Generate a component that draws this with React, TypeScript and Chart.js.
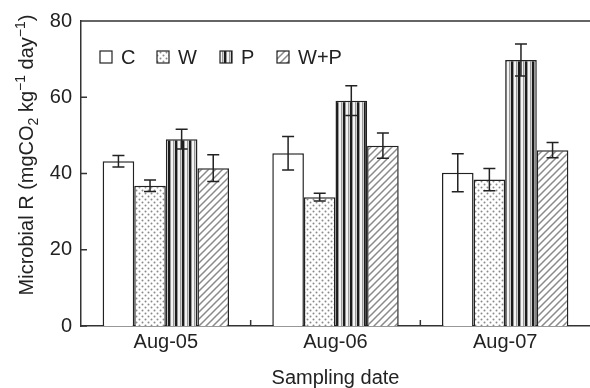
import React, { useEffect, useRef } from "react";
import { Chart, registerables } from "chart.js";
Chart.register(...registerables);

const categories = ["Aug-05", "Aug-06", "Aug-07"];
const seriesNames = ["C", "W", "P", "W+P"];
const valuesC = [43.2, 45.3, 40.2];
const errorsC = [1.5, 4.4, 5.0];
const valuesW = [36.8, 33.8, 38.4];
const errorsW = [1.5, 1.0, 2.9];
const valuesP = [49.0, 59.1, 69.8];
const errorsP = [2.6, 3.9, 4.2];
const valuesWP = [41.4, 47.3, 46.1];
const errorsWP = [3.5, 3.3, 2.0];
const yTickValues = [0, 20, 40, 60, 80];

const FONT = "'Liberation Sans', Arial, Helvetica, sans-serif";
const INK = "#222";

function makePattern(kind: string): CanvasPattern | string {
  const c = document.createElement("canvas");
  const x = c.getContext("2d")!;
  if (kind === "dots") {
    c.width = 6; c.height = 6;
    x.fillStyle = "#fff"; x.fillRect(0, 0, 6, 6);
    x.fillStyle = "#8a8a8a";
    x.beginPath(); x.arc(1.5, 1.5, 1.0, 0, Math.PI * 2); x.fill();
    x.beginPath(); x.arc(4.5, 4.5, 1.0, 0, Math.PI * 2); x.fill();
  } else if (kind === "stripes") {
    c.width = 7; c.height = 2;
    const cols = ["#1c1c1c", "#1c1c1c", "#9a9a9a", "#f4f4f4", "#f4f4f4", "#9a9a9a", "#d0d0d0"];
    cols.forEach((col, i) => { x.fillStyle = col; x.fillRect(i, 0, 1, 2); });
  } else if (kind === "hatch") {
    c.width = 7; c.height = 7;
    x.fillStyle = "#fff"; x.fillRect(0, 0, 7, 7);
    x.strokeStyle = "#8a8a8a"; x.lineWidth = 1.5;
    x.beginPath();
    x.moveTo(-1, 8); x.lineTo(8, -1);
    x.moveTo(-2, 2); x.lineTo(2, -2);
    x.moveTo(5, 9); x.lineTo(9, 5);
    x.stroke();
  } else {
    return "#ffffff";
  }
  return x.createPattern(c, "repeat") || "#fff";
}

const errorBars = {
  id: "errorBars",
  afterDatasetsDraw(chart: any) {
    const ctx = chart.ctx;
    const ys = chart.scales.y;
    ctx.save();
    ctx.strokeStyle = INK;
    ctx.lineWidth = 1.5;
    chart.data.datasets.forEach((ds: any, di: number) => {
      const meta = chart.getDatasetMeta(di);
      meta.data.forEach((bar: any, i: number) => {
        const v = ds.data[i];
        const e = ds.errors[i];
        const xp = bar.x;
        const yt = ys.getPixelForValue(v + e);
        const yb = ys.getPixelForValue(v - e);
        ctx.beginPath();
        ctx.moveTo(xp, yt); ctx.lineTo(xp, yb);
        ctx.moveTo(xp - 6, yt); ctx.lineTo(xp + 6, yt);
        ctx.moveTo(xp - 6, yb); ctx.lineTo(xp + 6, yb);
        ctx.stroke();
      });
    });
    ctx.restore();
  },
};

const frame = {
  id: "frame",
  afterDraw(chart: any) {
    const ctx = chart.ctx;
    const a = chart.chartArea;
    const ys = chart.scales.y;
    const xs = chart.scales.x;
    ctx.save();
    ctx.strokeStyle = "#333";
    ctx.lineWidth = 1.5;
    ctx.beginPath();
    ctx.moveTo(a.left, a.top); ctx.lineTo(chart.width, a.top);
    ys.ticks.forEach((t: any) => {
      const py = ys.getPixelForValue(t.value);
      ctx.moveTo(a.left - 1, py); ctx.lineTo(a.left + 6, py);
    });
    for (let i = 0; i < categories.length - 1; i++) {
      const px = (xs.getPixelForValue(i) + xs.getPixelForValue(i + 1)) / 2;
      ctx.moveTo(px, a.bottom); ctx.lineTo(px, a.bottom - 6);
    }
    ctx.stroke();

    // legend
    ctx.fillStyle = INK;
    ctx.font = `20px ${FONT}`;
    ctx.textBaseline = "middle";
    ctx.textAlign = "left";
    const boxX = [100, 157, 220, 277];
    const ly = 57;
    chart.data.datasets.forEach((ds: any, di: number) => {
      const bx = boxX[di];
      ctx.fillStyle = ds.backgroundColor;
      ctx.fillRect(bx, ly - 6, 12, 12);
      ctx.lineWidth = 1.2;
      ctx.strokeStyle = INK;
      ctx.strokeRect(bx, ly - 6, 12, 12);
      ctx.fillStyle = INK;
      ctx.fillText(ds.label, bx + 21, ly + 1);
    });

    // x title
    ctx.font = `20px ${FONT}`;
    ctx.textAlign = "center";
    ctx.textBaseline = "alphabetic";
    ctx.fillText("Sampling date", (a.left + a.right) / 2, 384);

    // y title with sub/superscripts
    const segs = [
      { t: "Microbial R (mgCO", k: "n" },
      { t: "2", k: "sub" },
      { t: " kg", k: "n" },
      { t: "\u22121", k: "sup" },
      { t: " day", k: "n" },
      { t: "\u22121", k: "sup" },
      { t: ")", k: "n" },
    ];
    const fontFor = (k: string) => (k === "n" ? `20px ${FONT}` : `14px ${FONT}`);
    let total = 0;
    segs.forEach((s) => { ctx.font = fontFor(s.k); total += ctx.measureText(s.t).width; });
    ctx.translate(33, 155);
    ctx.rotate(-Math.PI / 2);
    ctx.textAlign = "left";
    let cx = -total / 2;
    segs.forEach((s) => {
      ctx.font = fontFor(s.k);
      const dy = s.k === "sub" ? 5 : s.k === "sup" ? -8 : 0;
      ctx.fillText(s.t, cx, dy);
      cx += ctx.measureText(s.t).width;
    });
    ctx.restore();
  },
};

export default function App() {
  const ref = useRef<HTMLCanvasElement | null>(null);
  useEffect(() => {
    if (!ref.current) return;
    const fills = [makePattern("none"), makePattern("dots"), makePattern("stripes"), makePattern("hatch")];
    const vals = [valuesC, valuesW, valuesP, valuesWP];
    const errs = [errorsC, errorsW, errorsP, errorsWP];
    const chart = new Chart(ref.current, {
      type: "bar",
      data: {
        labels: categories,
        datasets: seriesNames.map((name, i) => ({
          label: name,
          data: vals[i],
          errors: errs[i],
          backgroundColor: fills[i] as any,
          borderColor: INK,
          borderWidth: 1.5,
          barPercentage: 1,
          categoryPercentage: 0.745,
        })) as any,
      },
      options: {
        animation: false,
        responsive: true,
        maintainAspectRatio: false,
        layout: { padding: { top: 18, right: 0, left: 0, bottom: 0 } },
        plugins: { legend: { display: false }, tooltip: { enabled: false } },
        scales: {
          x: {
            grid: { display: false, drawTicks: false },
            border: { color: "#333", width: 1.5 },
            ticks: { font: { size: 20, family: FONT }, color: INK, padding: 4 },
            afterFit: (s: any) => { s.height = 62; },
          },
          y: {
            min: 0,
            max: 80,
            grid: { display: false, drawTicks: false },
            border: { color: "#333", width: 1.5 },
            afterBuildTicks: (s: any) => { s.ticks = yTickValues.map((v) => ({ value: v })); },
            ticks: { font: { size: 20, family: FONT }, color: INK, padding: 9 },
            afterFit: (s: any) => { s.width = 81; },
          },
        },
      },
      plugins: [errorBars, frame],
    });
    return () => chart.destroy();
  }, []);
  return (
    <div style={{ position: "absolute", left: 0, top: 0, width: 590, height: 388, background: "#fff" }}>
      <canvas ref={ref} />
    </div>
  );
}
